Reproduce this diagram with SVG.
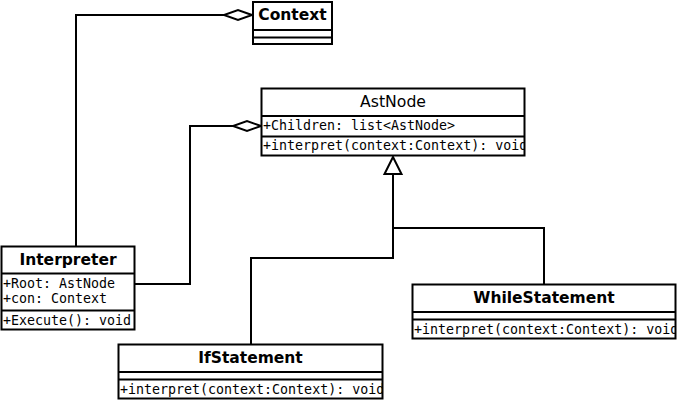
<svg xmlns="http://www.w3.org/2000/svg" width="677" height="401" viewBox="0 0 677 401">
<style>
  .box { fill: #fff; stroke: #000; stroke-width: 2; }
  .div { stroke: #000; stroke-width: 2; fill: none; }
  .title { font-family: "DejaVu Sans", sans-serif; font-size: 15.5px; font-weight: bold; text-anchor: middle; fill: #000; }
  .titleN { font-family: "DejaVu Sans", sans-serif; font-size: 15.7px; text-anchor: middle; fill: #000; }
  .mem { font-family: "DejaVu Sans Mono", monospace; font-size: 13.3px; fill: #000; }
  .conn { stroke: #000; stroke-width: 2; fill: none; }
  .diamond { fill: #fff; stroke: #000; stroke-width: 2; }
  .tri { fill: #fff; stroke: #000; stroke-width: 2; }
</style>
<defs>
  <clipPath id="cAst"><rect x="262" y="89" width="262" height="66"/></clipPath>
  <clipPath id="cInt"><rect x="2" y="247" width="132" height="82"/></clipPath>
  <clipPath id="cIf"><rect x="119" y="345" width="263" height="52"/></clipPath>
  <clipPath id="cWhile"><rect x="413" y="285" width="262" height="53"/></clipPath>
</defs>

<g id="connectors">
  <polyline class="conn" points="76,246 76,15 226,15"/>
  <polygon class="diamond" points="252,15 238,10 224,15 238,20"/>
  <polyline class="conn" points="134,284 190,284 190,126 234,126"/>
  <polygon class="diamond" points="261,126 247,121 233,126 247,131"/>
  <polyline class="conn" points="393,174 393,258 251,258 251,344"/>
  <polyline class="conn" points="393,228 544,228 544,284"/>
  <polygon class="tri" points="393,157 384.5,174 401.5,174"/>
</g>

<g id="Context">
  <rect class="box" x="253" y="2" width="79" height="42"/>
  <line class="div" x1="253" y1="30" x2="332" y2="30"/>
  <line class="div" x1="253" y1="37.5" x2="332" y2="37.5"/>
  <text class="title" x="292.5" y="20">Context</text>
</g>

<g id="AstNode">
  <rect class="box" x="261.5" y="88.5" width="263" height="67"/>
  <line class="div" x1="261.5" y1="116" x2="524.5" y2="116"/>
  <line class="div" x1="261.5" y1="136.5" x2="524.5" y2="136.5"/>
  <text class="titleN" x="393" y="107">AstNode</text>
  <g clip-path="url(#cAst)">
    <text class="mem" x="263" y="130">+Children: list&lt;AstNode&gt;</text>
    <text class="mem" x="263" y="150">+interpret(context:Context): void</text>
  </g>
</g>

<g id="Interpreter">
  <rect class="box" x="1.5" y="246.5" width="133" height="83"/>
  <line class="div" x1="1.5" y1="273.5" x2="134.5" y2="273.5"/>
  <line class="div" x1="1.5" y1="310.5" x2="134.5" y2="310.5"/>
  <text class="title" x="68" y="265">Interpreter</text>
  <g clip-path="url(#cInt)">
    <text class="mem" x="3" y="288">+Root: AstNode</text>
    <text class="mem" x="3" y="303">+con: Context</text>
    <text class="mem" x="3" y="325">+Execute(): void</text>
  </g>
</g>

<g id="IfStatement">
  <rect class="box" x="118.5" y="344.5" width="264" height="54"/>
  <line class="div" x1="118.5" y1="372" x2="382.5" y2="372"/>
  <line class="div" x1="118.5" y1="379.5" x2="382.5" y2="379.5"/>
  <text class="title" x="250.5" y="363">IfStatement</text>
  <g clip-path="url(#cIf)">
    <text class="mem" x="120" y="394">+interpret(context:Context): void</text>
  </g>
</g>

<g id="WhileStatement">
  <rect class="box" x="412.5" y="284.5" width="263" height="54"/>
  <line class="div" x1="412.5" y1="312" x2="675.5" y2="312"/>
  <line class="div" x1="412.5" y1="319.5" x2="675.5" y2="319.5"/>
  <text class="title" x="544" y="303">WhileStatement</text>
  <g clip-path="url(#cWhile)">
    <text class="mem" x="414" y="334">+interpret(context:Context): void</text>
  </g>
</g>
</svg>
